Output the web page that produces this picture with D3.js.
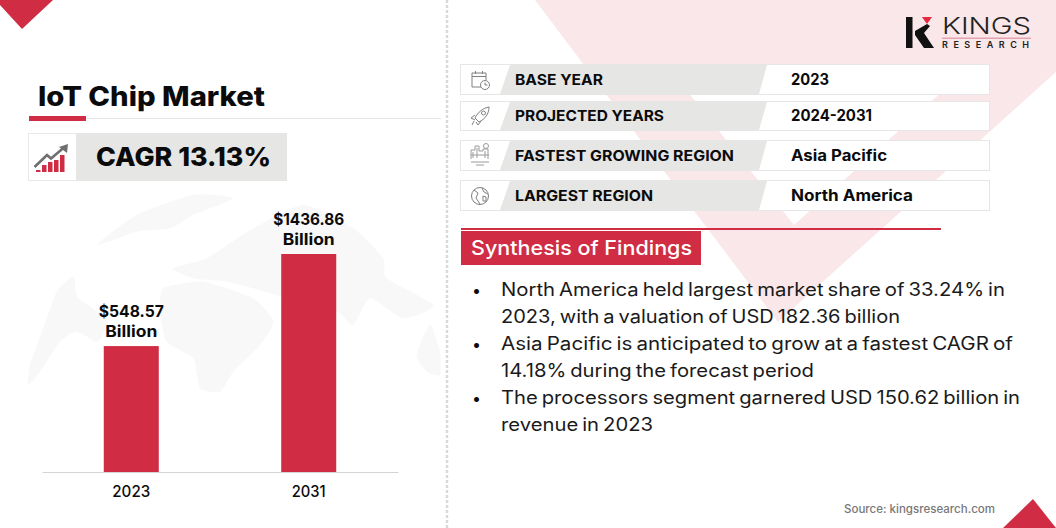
<!DOCTYPE html>
<html>
<head>
<meta charset="utf-8">
<script src="https://cdn.jsdelivr.net/npm/d3@7"></script>
<style>
  html, body { margin: 0; padding: 0; background: #fff; }
  svg { display: block; }
  text { font-family: Inter, "Open Sans", sans-serif; fill: #0b0b0b; }
</style>
</head>
<body>
<script>
const years = ['2023', '2031'];
const marketValues = [548.57, 1436.86];
const valueLabels = ['$548.57', '$1436.86'];

const infoLabels = ['BASE YEAR', 'PROJECTED YEARS', 'FASTEST GROWING REGION', 'LARGEST REGION'];
const infoValues = ['2023', '2024-2031', 'Asia Pacific', 'North America'];
const findingLines = [
  'North America held largest market share of 33.24% in',
  '2023, with a valuation of USD 182.36 billion',
  'Asia Pacific is anticipated to grow at a fastest CAGR of',
  '14.18% during the forecast period',
  'The processors segment garnered USD 150.62 billion in',
  'revenue in 2023'
];

const red = '#d02d44';
const svg = d3.select('body').append('svg')
  .attr('width', 1056)
  .attr('height', 528);

const line = d3.line();
const blob = d3.line().curve(d3.curveCardinalClosed.tension(0.4));

function polygon(parent, pts, fill) {
  return parent.append('path').attr('d', line(pts) + 'Z').attr('fill', fill);
}

// len = measured width in the picture, the font is not the original one
function label(parent, x, y, str, size, weight, len, fill) {
  const t = parent.append('text')
    .attr('x', x).attr('y', y)
    .attr('font-size', size)
    .attr('font-weight', weight)
    .text(str);
  if (len) t.attr('textLength', len).attr('lengthAdjust', 'spacingAndGlyphs');
  if (fill) t.style('fill', fill);
  return t;
}

// background
polygon(svg, [[535, 0], [1056, 0], [1056, 72], [778, 322]], '#f9e7e9');
polygon(svg, [[672, 72], [964, 72], [794, 225]], '#fff');
polygon(svg, [[0, 0], [53, 0], [22, 29], [0, 5]], red);
polygon(svg, [[1033, 499], [1056, 528], [1003, 528]], red);

svg.append('line')
  .attr('x1', 447).attr('x2', 447).attr('y1', 0).attr('y2', 528)
  .attr('stroke', '#d9d9d9').attr('stroke-width', 2.5).attr('stroke-dasharray', '3,2');

// faint world map behind the bars
const map = svg.append('g').attr('transform', 'translate(20,185) scale(0.3333)');
[
  [[25, 600], [30, 540], [70, 430], [110, 320], [160, 275], [175, 340], [260, 400], [235, 470], [170, 440], [120, 470], [60, 560]],
  [[230, 180], [350, 90], [520, 30], [640, 40], [520, 90], [450, 130], [350, 140]],
  [[460, 250], [560, 220], [700, 130], [850, 60], [1000, 130], [1090, 220], [1100, 280], [1240, 360], [1150, 400], [1050, 340], [1000, 420], [950, 380], [800, 340], [700, 310], [620, 290], [520, 280]],
  [[430, 310], [550, 290], [700, 340], [760, 410], [720, 480], [640, 560], [600, 620], [540, 610], [520, 520], [440, 470], [420, 380]],
  [[1190, 510], [1230, 420], [1260, 500], [1260, 570], [1220, 560]]
].forEach(p => {
  map.append('path').attr('d', blob(p)).attr('fill', '#f8f8f8');
});

// title block
label(svg, 38, 106, 'IoT Chip Market', 27, 800, 227);
svg.append('rect').attr('x', 86).attr('y', 118).attr('width', 355).attr('height', 1).attr('fill', '#e6e6e6');
svg.append('rect').attr('x', 29).attr('y', 116).attr('width', 57).attr('height', 5).attr('fill', red);

svg.append('rect').attr('x', 28.5).attr('y', 133.5).attr('width', 48).attr('height', 47)
  .attr('fill', '#fff').attr('stroke', '#e8e8e8');
svg.append('rect').attr('x', 76).attr('y', 133).attr('width', 211).attr('height', 48).attr('fill', '#e6e6e5');
label(svg, 96, 166, 'CAGR 13.13%', 26, 800, 175);

// small growth icon
[[36, 170], [42, 165], [48, 162], [54, 160], [60, 155]].forEach(b => {
  svg.append('rect').attr('x', b[0]).attr('y', b[1]).attr('width', 4.5).attr('height', 172 - b[1]).attr('fill', red);
});
svg.append('path').attr('d', 'M34.5,167L47,155L51,158.5L64,147.5').attr('fill', 'none')
  .attr('stroke', '#6f6f6f').attr('stroke-width', 2.6);
polygon(svg, [[68, 144], [67, 153], [59, 147]], '#6f6f6f');

// bars
const x = d3.scaleBand()
  .domain(years)
  .range([42, 398])
  .paddingInner(0.69)
  .paddingOuter(0.348);

// the bars of the reference are not proportional to their labels, hence a power scale
const y = d3.scalePow()
  .exponent(0.57)
  .domain([0, d3.max(marketValues)])
  .range([472, 254]);

svg.selectAll('.bar')
  .data(marketValues).enter()
  .append('rect')
  .attr('class', 'bar')
  .attr('x', (d, i) => x(years[i]))
  .attr('y', d => y(d))
  .attr('width', x.bandwidth())
  .attr('height', d => y(0) - y(d))
  .attr('fill', red);

const tickLen = [38, 34];
const axis = svg.append('g')
  .attr('transform', 'translate(0,472)')
  .call(d3.axisBottom(x).tickSize(0).tickPadding(14));
axis.select('.domain').attr('stroke', '#d4d4d4').attr('stroke-width', 1);
axis.selectAll('text')
  .attr('font-family', null)
  .attr('font-size', 15.5)
  .attr('font-weight', 500)
  .attr('textLength', (d, i) => tickLen[i])
  .attr('lengthAdjust', 'spacingAndGlyphs');

const valueLen = [65, 71];
svg.selectAll('.value')
  .data(marketValues).enter()
  .append('text')
  .attr('class', 'value')
  .attr('x', (d, i) => x(years[i]) + x.bandwidth() / 2)
  .attr('y', d => y(d) - 29.5)
  .attr('text-anchor', 'middle')
  .attr('font-size', 16)
  .attr('font-weight', 700)
  .attr('textLength', (d, i) => valueLen[i])
  .attr('lengthAdjust', 'spacingAndGlyphs')
  .text((d, i) => valueLabels[i]);

svg.selectAll('.unit')
  .data(marketValues).enter()
  .append('text')
  .attr('class', 'unit')
  .attr('x', (d, i) => x(years[i]) + x.bandwidth() / 2)
  .attr('y', d => y(d) - 9.5)
  .attr('text-anchor', 'middle')
  .attr('font-size', 16)
  .attr('font-weight', 700)
  .attr('textLength', 52)
  .attr('lengthAdjust', 'spacingAndGlyphs')
  .text('Billion');

// info table
const rowY = [64, 101, 140, 180];
const rowH = [30, 29, 30, 30];
const rowBase = [84.5, 120.5, 160.5, 200.5];
const labelLen = [88, 149, 219, 138];
const infoLen = [38, 81, 96, 122];

infoLabels.forEach((name, i) => {
  const top = rowY[i], h = rowH[i];
  svg.append('rect').attr('x', 460.5).attr('y', top + 0.5).attr('width', 529).attr('height', h)
    .attr('fill', '#fff').attr('stroke', '#e6e6e6');
  polygon(svg, [[510, top + 1], [767, top + 1], [759, top + h], [500, top + h]], '#e6e6e5');
  label(svg, 515, rowBase[i], name, 14.5, 700, labelLen[i]);
  label(svg, 791, rowBase[i] + 0.5, infoValues[i], 15.5, 700, infoLen[i]);
});

// row icons
const icon = svg.append('g').attr('fill', 'none').attr('stroke', '#808080').attr('stroke-width', 1);
// calendar
icon.append('path').attr('d', 'M486,80V73H472V87H481M472,76.5H486M475.5,71V74M482.5,71V74');
icon.append('circle').attr('cx', 485).attr('cy', 85).attr('r', 4.5);
icon.append('path').attr('d', 'M485,82.5V85H487.5');
// rocket
icon.append('path').attr('d', 'M489,107C483,108 478,112 475,118L479,122C485,119 489,114 489,107Z');
icon.append('circle').attr('cx', 483.5).attr('cy', 113).attr('r', 2);
icon.append('path').attr('d', 'M475,115L471,118L475,120M481,121L478,125L476,122M474,121L472,125');
// cityscape
icon.append('path').attr('d', 'M471,159V150H475V146H479V151H483V149H488V159M471,155H489M471,162H489M476,165H484M473,152V158M477,148V158M485,151V158')
  .attr('stroke', '#9a9a9a');
icon.append('circle').attr('cx', 486).attr('cy', 146).attr('r', 2.5).attr('stroke', '#9a9a9a');
// globe
icon.append('circle').attr('cx', 480).attr('cy', 196).attr('r', 8.5);
icon.append('path').attr('d', 'M474,190L478,193L476,198L480,204M482,188L484,192L488,194M483,196L486,197L486,201L483,201Z');

// findings
svg.append('rect').attr('x', 461).attr('y', 228).attr('width', 480).attr('height', 2).attr('fill', red);
svg.append('rect').attr('x', 461).attr('y', 231).attr('width', 240).attr('height', 34).attr('fill', red);
label(svg, 471, 255, 'Synthesis of Findings', 20, 500, 221, '#fff');

const lineLen = [504, 399, 512, 313, 519, 152];
const lineY = d3.scaleLinear().domain([0, 1]).range([296, 323]);
findingLines.forEach((str, i) => {
  if (i % 2 === 0) label(svg, 472, lineY(i), '\u2022', 16, 400);
  label(svg, 501, lineY(i), str, 18, 400, lineLen[i], '#1a1a1a')
    .attr('word-spacing', -1.5);
});

// source
label(svg, 844, 513, 'Source: kingsresearch.com', 11.5, 500, 151, '#777');

// logo
svg.append('rect').attr('x', 906).attr('y', 17).attr('width', 6.5).attr('height', 31).attr('fill', '#111');
polygon(svg, [[915, 31], [927, 24], [930, 26], [924, 33], [934, 48], [924, 48], [915, 35]], '#111');
polygon(svg, [[922, 17], [932, 17], [927, 24]], '#e3283f');
label(svg, 942, 34, 'KINGS', 23, 300, 89, '#222');
svg.append('rect').attr('x', 942).attr('y', 37.5).attr('width', 89).attr('height', 1.5).attr('fill', '#e3a3b0');
label(svg, 942, 48, 'RESEARCH', 9, 600, null, '#222')
  .attr('textLength', 87).attr('lengthAdjust', 'spacing');
</script>
</body>
</html>
